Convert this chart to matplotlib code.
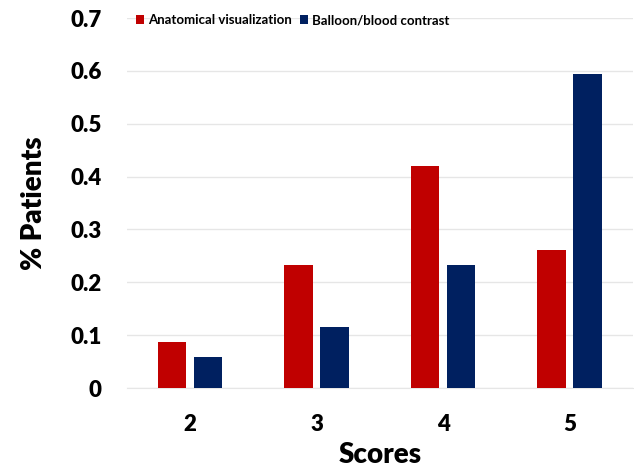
import matplotlib
matplotlib.use('Agg')

import matplotlib.pyplot as plt
import numpy as np

scores = ['2', '3', '4', '5']
anatomical = [0.087, 0.232, 0.420, 0.261]
balloon = [0.058, 0.116, 0.232, 0.594]
yticks = [0, 0.1, 0.2, 0.3, 0.4, 0.5, 0.6, 0.7]
ytick_labels = ['0', '0.1', '0.2', '0.3', '0.4', '0.5', '0.6', '0.7']

plt.rcParams['font.family'] = ['Lato', 'DejaVu Sans']
plt.rcParams['font.weight'] = 'bold'

fig = plt.figure(figsize=(6.34, 4.69), dpi=100)
ax = fig.add_axes([0.2003, 0.1727, 0.7977, 0.7889])

x = np.arange(len(scores))
w = 0.225
ax.bar(x - 0.142, anatomical, w, color='#C00000', label='Anatomical visualization', zorder=3)
ax.bar(x + 0.142, balloon, w, color='#002060', label='Balloon/blood contrast', zorder=3)

ax.set_xlim(-0.5, 3.5)
ax.set_ylim(0, 0.7)
ax.set_yticks(yticks)
ax.set_yticklabels(ytick_labels)
ax.set_xticks(x)
ax.set_xticklabels(scores)
ax.tick_params(axis='y', length=0, pad=18, labelsize=16)
ax.tick_params(axis='x', length=0, pad=19, labelsize=16)
for lab in ax.get_xticklabels() + ax.get_yticklabels():
    lab.set_fontweight('heavy')

ax.grid(axis='y', color='#E6E6E6', linewidth=1, zorder=0)
for s in ['top', 'right', 'left']:
    ax.spines[s].set_visible(False)
ax.spines['bottom'].set_color('#E6E6E6')

ax.set_xlabel('Scores', fontsize=20, fontweight='heavy', labelpad=5)
ax.set_ylabel('% Patients', fontsize=20, fontweight='heavy', labelpad=17)

ax.legend(loc='upper left', bbox_to_anchor=(0.008, 1.025), ncol=2, frameon=False,
          handlelength=0.6, handleheight=0.6, handletextpad=0.3,
          columnspacing=0.6, borderaxespad=0, prop={'weight': 'bold', 'size': 9.5})

fig.savefig('out.png', dpi=100)
